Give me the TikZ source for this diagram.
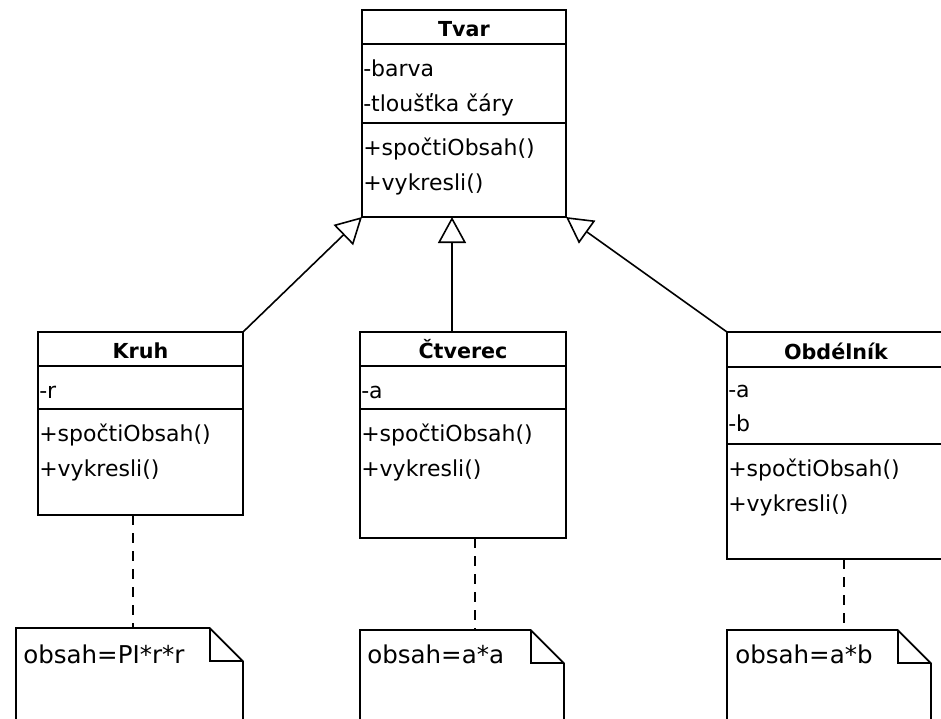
\documentclass[tikz,border=0pt]{standalone}
\usepackage{fontspec}
\setmainfont{DejaVu Sans}
\usetikzlibrary{arrows.meta}

\begin{document}
\begin{tikzpicture}[x=0.75pt,y=-0.75pt]

        \useasboundingbox (0,0) rectangle (941,718);
        \clip (0,0) rectangle (941,718);

        % class boxes
        \begin{scope}[every node/.style={draw, line width=1.4pt, anchor=north west, inner sep=0pt, outer sep=0pt}]
          \node[minimum width=153pt, minimum height=155.25pt] (tvar) at (362,10) {};
          \node[minimum width=153.75pt, minimum height=137.25pt] (kruh) at (38,332) {};
          \node[minimum width=154.5pt, minimum height=154.5pt] (ctverec) at (360,332) {};
          \node[minimum width=163.5pt, minimum height=170.25pt] (obdelnik) at (727,332) {};
        \end{scope}

        % compartments
        \begin{scope}[line width=1.4pt]
          \draw (tvar.west |- 0,44) -- (tvar.east |- 0,44);
          \draw (tvar.west |- 0,123) -- (tvar.east |- 0,123);
          \draw (kruh.west |- 0,366) -- (kruh.east |- 0,366);
          \draw (kruh.west |- 0,409) -- (kruh.east |- 0,409);
          \draw (ctverec.west |- 0,366) -- (ctverec.east |- 0,366);
          \draw (ctverec.west |- 0,409) -- (ctverec.east |- 0,409);
          \draw (obdelnik.west |- 0,367) -- (obdelnik.east |- 0,367);
          \draw (obdelnik.west |- 0,444) -- (obdelnik.east |- 0,444);
        \end{scope}

        % titles
        \begin{scope}[every node/.style={anchor=base, inner sep=0pt, font=\fontsize{15.5}{18}\selectfont\bfseries}]
          \node (t0) at (tvar.north |- 0,36) {Tvar};
          \node (t1) at (kruh.north |- 0,358) {Kruh};
          \node (t2) at (ctverec.north |- 0,358) {Čtverec};
          \node (t3) at (obdelnik.north |- 0,359) {Obdélník};
        \end{scope}

        % attributes and operations
        \begin{scope}[every node/.style={anchor=base west, inner sep=0pt, font=\fontsize{16.5}{20}\selectfont}]
          \node (a0) at (363,76)  {-barva};
          \node (a1) at (363,111) {-tloušťka čáry};
          \node (m0) at (363,155) {+spočtiObsah()};
          \node (m1) at (363,190) {+vykresli()};

          \node (a2) at (39,398)  {-r};
          \node (m2) at (39,441)  {+spočtiObsah()};
          \node (m3) at (39,476)  {+vykresli()};

          \node (a3) at (361,398) {-a};
          \node (m4) at (361,441) {+spočtiObsah()};
          \node (m5) at (361,476) {+vykresli()};

          \node (a4) at (728,397) {-a};
          \node (a5) at (728,431) {-b};
          \node (m6) at (728,476) {+spočtiObsah()};
          \node (m7) at (728,511) {+vykresli()};
        \end{scope}

        % notes
        \begin{scope}[every node/.style={anchor=north west, inner sep=0pt, outer sep=0pt, minimum height=90pt}]
          \node[minimum width=170.25pt] (n0) at (16,628) {};
          \node[minimum width=153pt] (n1) at (360,630) {};
          \node[minimum width=153pt] (n2) at (727,630) {};
        \end{scope}

        \foreach \n in {n0,n1,n2} {
          \draw[line width=1.4pt, line join=miter] (\n.south west) -- (\n.north west)
            -- ([xshift=-25pt]\n.north east) -- ([yshift=-25pt]\n.north east) -- (\n.south east);
          \draw[line width=1.4pt] ([xshift=-25pt]\n.north east) |- ([yshift=-25pt]\n.north east);
        }

        \begin{scope}[every node/.style={anchor=base west, inner sep=0pt, font=\fontsize{18.4}{22}\selectfont}]
          \node (o0) at (23,663)  {obsah=PI*r*r};
          \node (o1) at (367,663) {obsah=a*a};
          \node (o2) at (735,663) {obsah=a*b};
        \end{scope}

        % links to the notes
        \begin{scope}[every edge/.style={draw, line width=1.1pt, dash pattern=on 7.5pt off 6pt}]
          \path (kruh.south -| 133,0) edge (n0.north -| 133,0);
          \path (ctverec.south -| 475,0) edge (n1.north -| 475,0);
          \path (obdelnik.south -| 844,0) edge (n2.north -| 844,0);
        \end{scope}

        % generalization
        \begin{scope}[every edge/.style={draw, line width=1.2pt, -{Triangle[open, length=19.5pt, width=21pt]}}]
          \path (kruh.north east) edge (tvar.south west);
          \path (ctverec.north -| 452,0) edge (tvar.south -| 452,0);
          \path (obdelnik.north west) edge (tvar.south east);
        \end{scope}

      \end{tikzpicture}
\end{document}
